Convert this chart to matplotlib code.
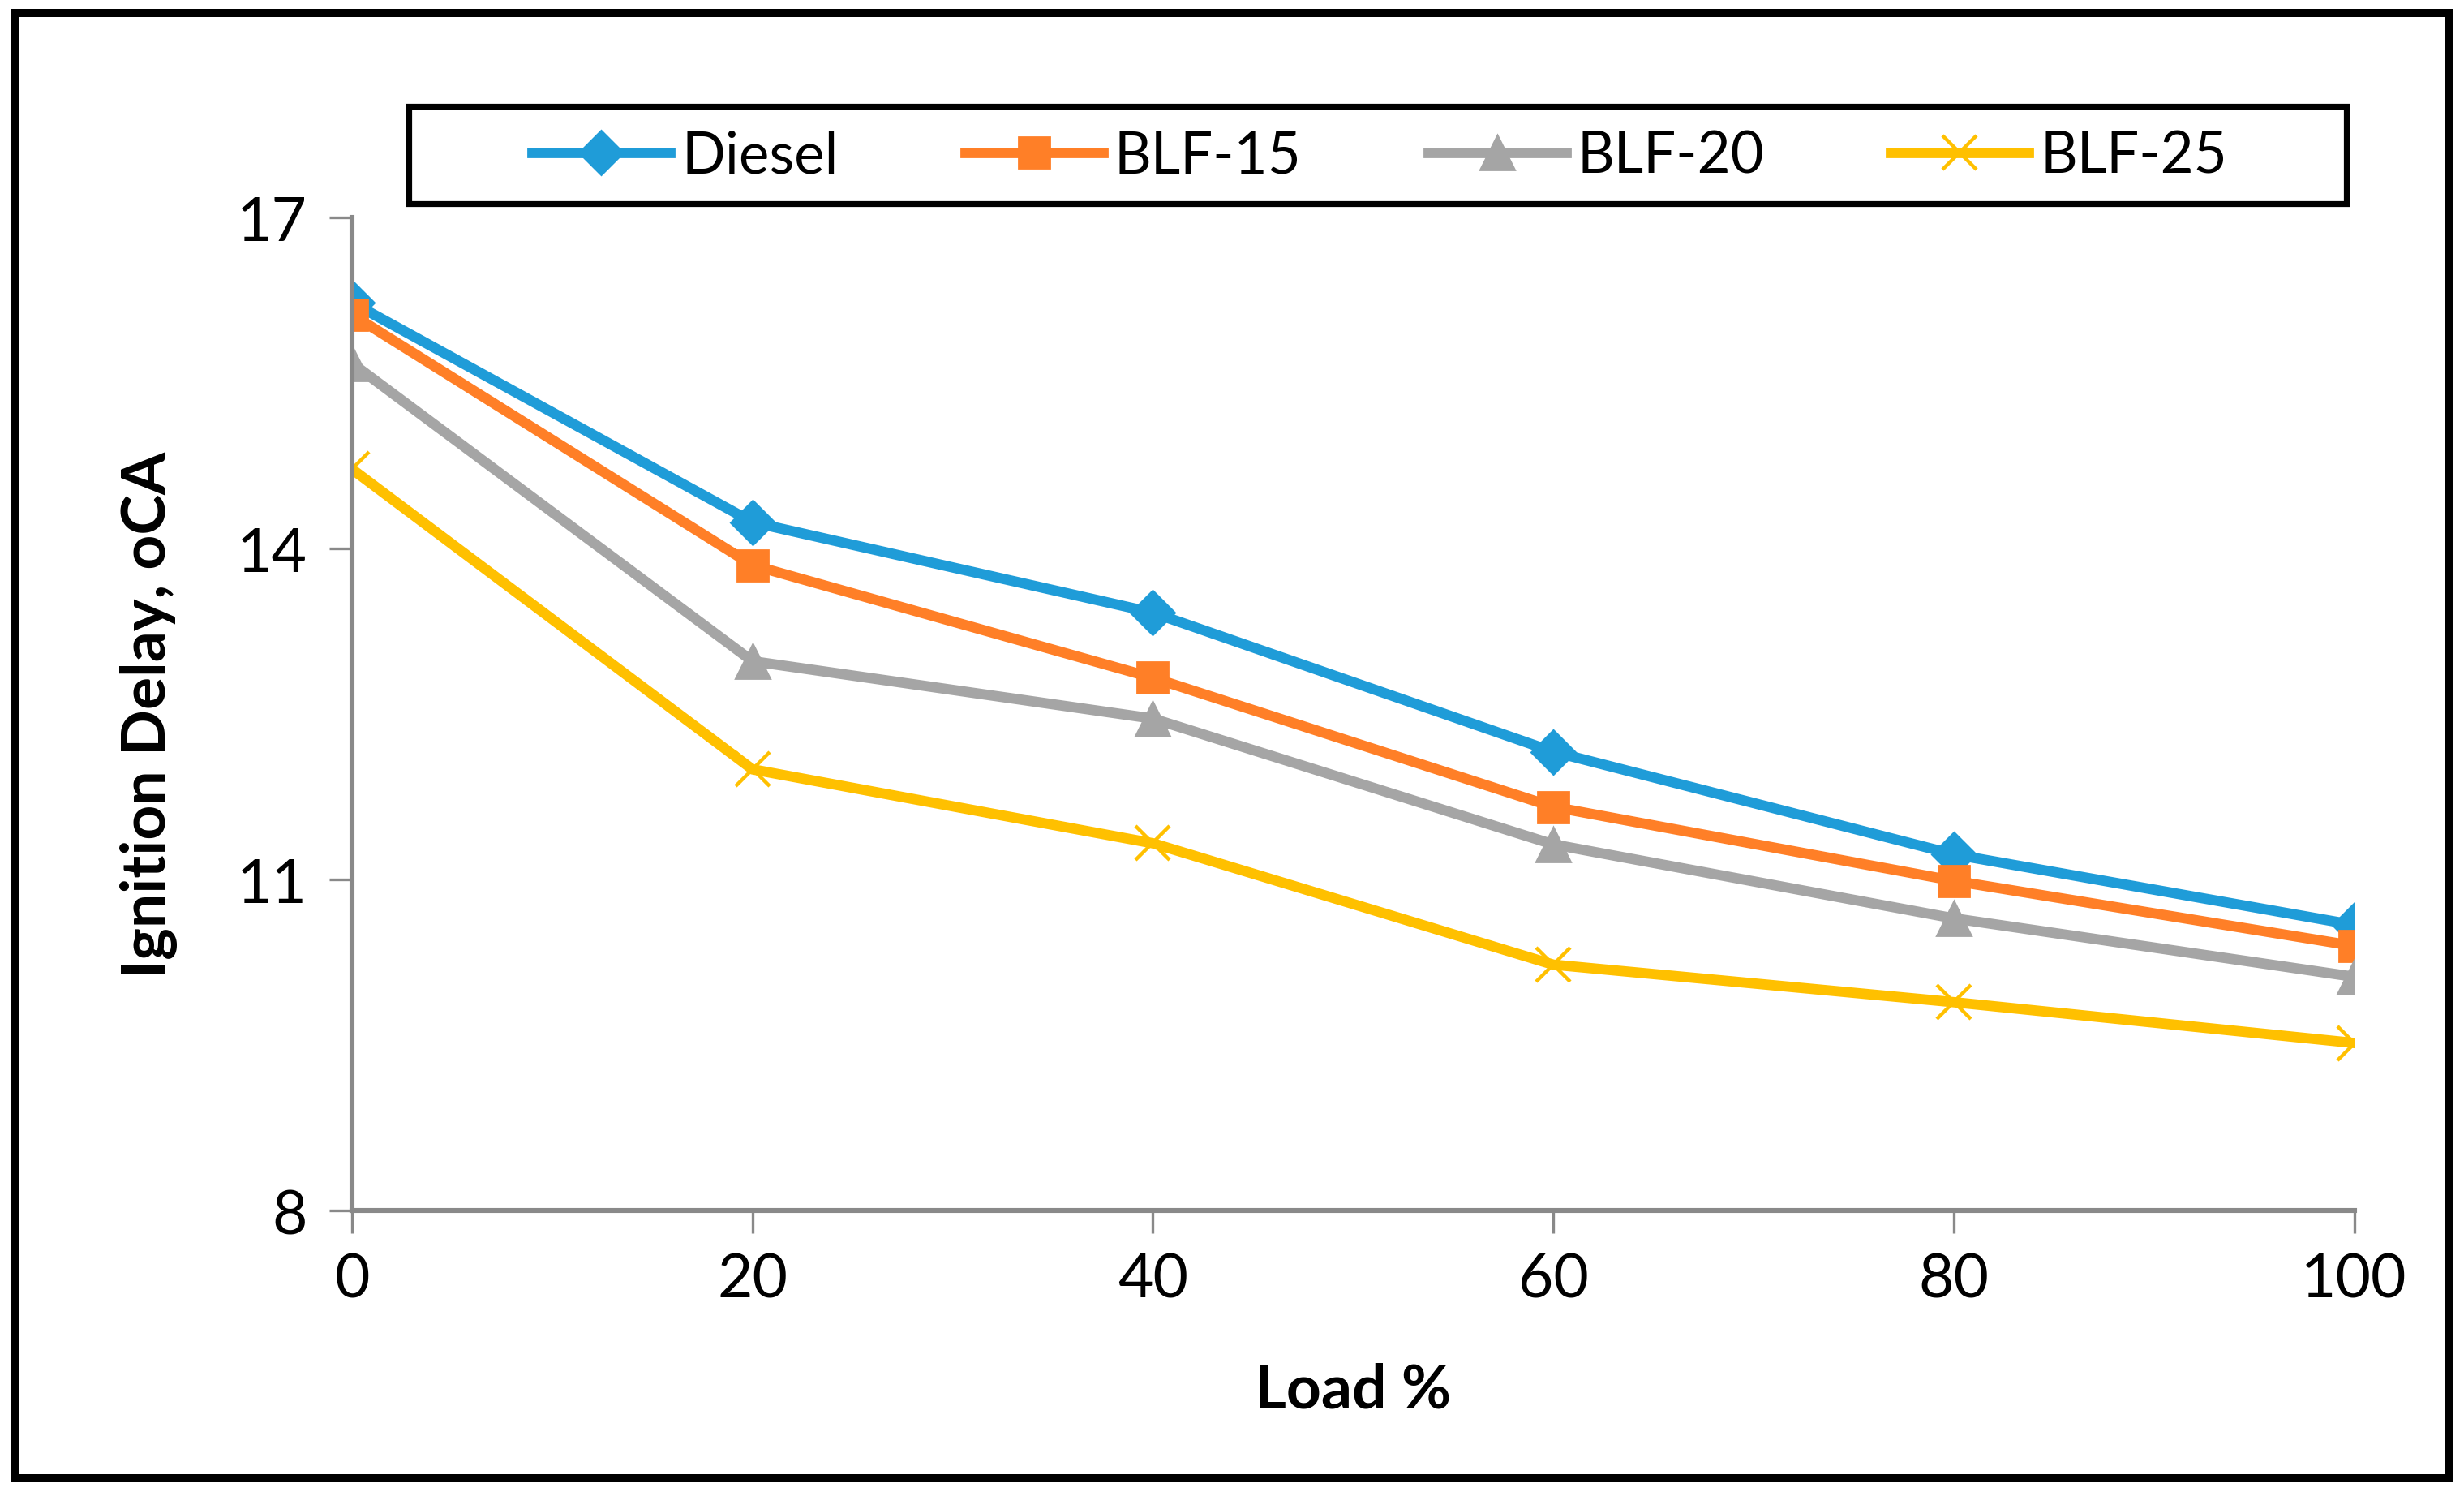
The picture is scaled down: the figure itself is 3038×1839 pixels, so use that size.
import numpy as np
import matplotlib
matplotlib.use('Agg')
from matplotlib import pyplot as plt
from matplotlib.patches import Rectangle

# ---------------------- data ----------------------
load = [0, 20, 40, 60, 80, 100]
diesel = [16.23, 14.24, 13.42, 12.16, 11.23, 10.59]
blf15 = [16.12, 13.85, 12.83, 11.66, 10.99, 10.40]
blf20 = [15.68, 12.98, 12.46, 11.32, 10.65, 10.12]
blf25 = [14.72, 12.00, 11.33, 10.23, 9.89, 9.52]
yticks = [8, 11, 14, 17]

plt.rcParams['font.family'] = ['Lato', 'DejaVu Sans']

fig = plt.figure(figsize=(15.19, 9.2), dpi=200)
ax = fig.add_axes([0.1429, 0.1884, 0.8125, 0.6653])

lw = 4.6
ax.plot(load, diesel, color='#1F9CD8', lw=lw, marker='D', markersize=14, label='Diesel')
ax.plot(load, blf15, color='#FF7F27', lw=lw, marker='s', markersize=14, label='BLF-15')
ax.plot(load, blf20, color='#A5A5A5', lw=lw, marker='^', markersize=15, label='BLF-20')
ax.plot(load, blf25, color='#FFC000', lw=lw, marker='x', markersize=15,
        markeredgewidth=1.6, label='BLF-25')

ax.set_xlim(0, 100)
ax.set_ylim(8, 17)
ax.set_xticks(load)
ax.set_yticks(yticks)
ax.spines['top'].set_visible(False)
ax.spines['right'].set_visible(False)
for s in ['left', 'bottom']:
    ax.spines[s].set_color('#898989')
    ax.spines[s].set_linewidth(2.2)
ax.tick_params(axis='both', direction='out', length=10, width=1.2,
               color='#898989', labelsize=27, pad=8)
ax.tick_params(axis='y', pad=10)
for spine in ax.spines.values():
    spine.set_clip_on(False)

ax.set_xlabel('Load %', fontsize=27, fontweight='bold', labelpad=24)
ax.set_ylabel('Ignition Delay, oCA', fontsize=27, fontweight='bold', labelpad=26)

# ----------------------- legend box ------------------------------------
leg = fig.legend(loc='center', bbox_to_anchor=(0.560, 0.895), ncol=4,
                 fontsize=25.5, frameon=False, handlelength=2.4,
                 handletextpad=0.2, columnspacing=2.2)
fig.patches.append(Rectangle((0.1658, 0.8632), 0.7864, 0.0653, transform=fig.transFigure,
                             fill=False, edgecolor='black', linewidth=2.6))

# ----------------------- outer frame -----------------------------------
fig.patches.append(Rectangle((0.006, 0.009), 0.988, 0.982, transform=fig.transFigure,
                             fill=False, edgecolor='black', linewidth=3.6))

fig.savefig('out.png', dpi=200)
